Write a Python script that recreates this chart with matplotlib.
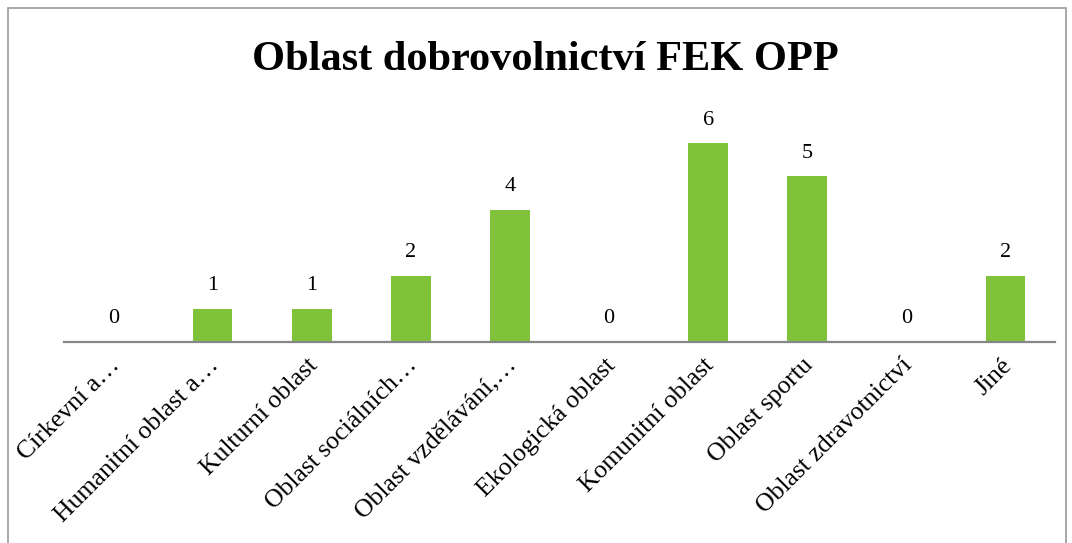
import matplotlib
matplotlib.use('Agg')
import matplotlib.pyplot as plt
from matplotlib.patches import Rectangle
from matplotlib.transforms import ScaledTranslation

#%% data

categories = ['Církevní a…', 'Humanitní oblast a…', 'Kulturní oblast',
              'Oblast sociálních…', 'Oblast vzdělávání,…', 'Ekologická oblast',
              'Komunitní oblast', 'Oblast sportu', 'Oblast zdravotnictví', 'Jiné']
values = [0, 1, 1, 2, 4, 0, 6, 5, 0, 2]
title = 'Oblast dobrovolnictví FEK OPP'

#%% plot

plt.rcParams['font.family'] = ['Liberation Serif', 'DejaVu Serif']

W, H = 1072, 543
fig = plt.figure(figsize=(W / 100, H / 100), dpi=100)
ax = fig.add_axes([64 / W, 201.3 / H, (1055 - 64) / W, 0.426])

x = list(range(len(categories)))
bars = ax.bar(x, values, width=0.4, color='#80C33A')
ax.set_xlim(-0.5, len(categories) - 0.5)
ax.set_ylim(0, 7)

for xi, v in zip(x, values):
    ax.annotate(str(v), (xi, v), xytext=(0, 10), textcoords='offset points',
                ha='center', va='bottom', fontsize=16)

for s in ['top', 'right', 'left']:
    ax.spines[s].set_visible(False)
ax.spines['bottom'].set_color('#878787')
ax.spines['bottom'].set_linewidth(1.6)
ax.set_yticks([])
ax.set_xticks(x)
ax.set_xticklabels(categories, rotation=45, ha='right', va='top',
                   rotation_mode='anchor', fontsize=18.5)
ax.tick_params(axis='x', length=0, pad=9)
shift = ScaledTranslation(-5 / 100, 0, fig.dpi_scale_trans)
for lbl in ax.get_xticklabels():
    lbl.set_transform(lbl.get_transform() + shift)

fig.text(545 / W, 1 - 60 / H, title, ha='center', va='center',
         fontsize=30.5, fontweight='bold')

# outer frame
fig.patches.append(Rectangle((8 / W, -0.1), (1066 - 8) / W, 1 - 8 / H + 0.1,
                             transform=fig.transFigure, fill=False,
                             edgecolor='#9a9a9a', linewidth=1.2))

fig.savefig('out.png', dpi=100)
